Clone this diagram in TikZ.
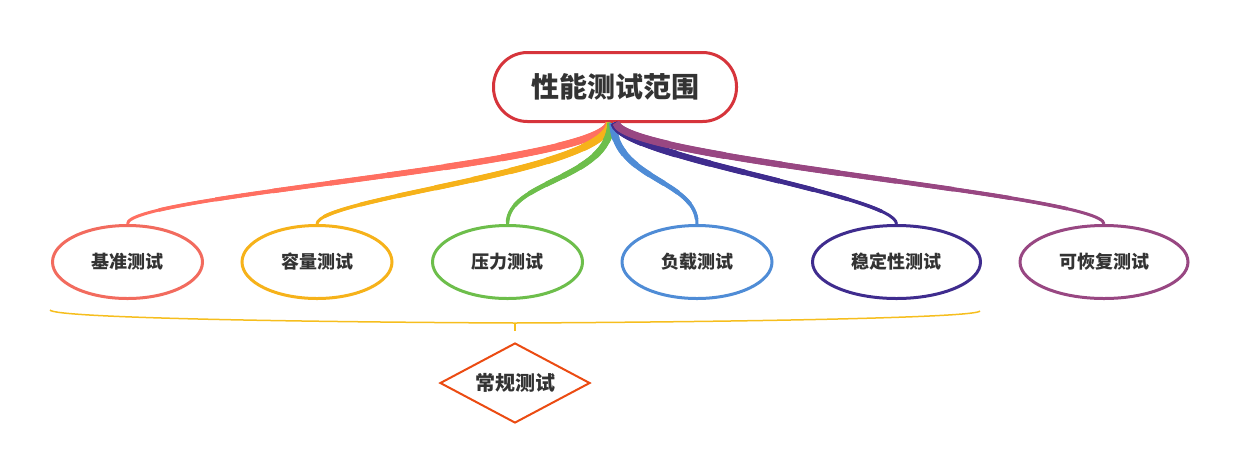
\documentclass[tikz,border=0pt]{standalone}
\usepackage{fontspec}
\newfontfamily\cjk{Noto Sans CJK SC}
\usetikzlibrary{shapes.geometric}
\definecolor{txt}{HTML}{333333}
\definecolor{rootc}{HTML}{D6343B}
\definecolor{cA}{HTML}{F26B5E}
\definecolor{cAl}{HTML}{FF6F61}
\definecolor{cB}{HTML}{F6B21A}
\definecolor{cC}{HTML}{6DBE4B}
\definecolor{cD}{HTML}{4F8CD6}
\definecolor{cE}{HTML}{3F2C8E}
\definecolor{cF}{HTML}{984782}
\definecolor{dia}{HTML}{EB4B12}
\definecolor{brace}{HTML}{F6BE1E}
\newcommand\branch[3]{%
  \draw[#1, line width=3pt] #2;
  \foreach \k in {1,...,8}{%
    \pgfmathsetmacro\w{3+0.55*\k}%
    \pgfmathsetmacro\on{#3*(1-\k/9)}%
    \draw[#1, line width=\w pt, dash pattern=on \on pt off 2000pt] #2;
  }%
}
\begin{document}
\begin{tikzpicture}[x=1pt,y=-1pt,
  rootbox/.style={draw=rootc, line width=3pt, rounded corners=34pt, minimum width=243pt, minimum height=69pt, inner sep=0pt, fill=white, text=txt, font=\cjk\bfseries\fontsize{28pt}{30pt}\selectfont},
  leaf/.style={draw=#1, ellipse, line width=3pt, minimum width=150pt, minimum height=73pt, inner sep=0pt, fill=white, text=txt, font=\cjk\bfseries\fontsize{18pt}{20pt}\selectfont},
  wideleaf/.style={leaf=#1, minimum width=168pt},
  regbox/.style={draw=dia, diamond, aspect=1.85, line width=2pt, minimum width=150pt, minimum height=80pt, inner sep=0pt, text=txt, font=\cjk\bfseries\fontsize{20pt}{22pt}\selectfont}
]
\useasboundingbox (0,0) rectangle (1238,475);

\node[rootbox] (root) at (615,87) {性能测试范围};

\node[leaf=cA] (n1) at (127.5,262) {基准测试};
\node[leaf=cB] (n2) at (317,262) {容量测试};
\node[leaf=cC] (n3) at (507.5,262) {压力测试};
\node[leaf=cD] (n4) at (697,262) {负载测试};
\node[wideleaf=cE] (n5) at (896.5,262) {稳定性测试};
\node[wideleaf=cF] (n6) at (1104,262) {可恢复测试};

\branch{cAl}{([xshift=-6pt]root.south) .. controls (603,165) and (125,195) .. (n1.north)}{520}
\branch{cB}{([xshift=-5pt]root.south) .. controls (606,172) and (317,198) .. (n2.north)}{345}
\branch{cC}{([xshift=-4pt]root.south) .. controls (609,180) and (507,180) .. (n3.north)}{170}
\branch{cD}{([xshift=-2pt]root.south) .. controls (615,180) and (697,180) .. (n4.north)}{150}
\branch{cE}{([xshift=-1pt]root.south) .. controls (622,158) and (896,195) .. (n5.north)}{320}
\branch{cF}{([xshift=1pt]root.south) .. controls (625,160) and (1104,195) .. (n6.north)}{520}

\draw[brace, line width=1.5pt] (50,310) .. controls (54,318) and (300,322) .. (515,323)
  .. controls (730,322) and (976,318) .. (980,311);
\draw[brace, line width=1.5pt] (515,323) -- (515,331);

\node[regbox] (reg) at (515,383) {常规测试};
\end{tikzpicture}
\end{document}
